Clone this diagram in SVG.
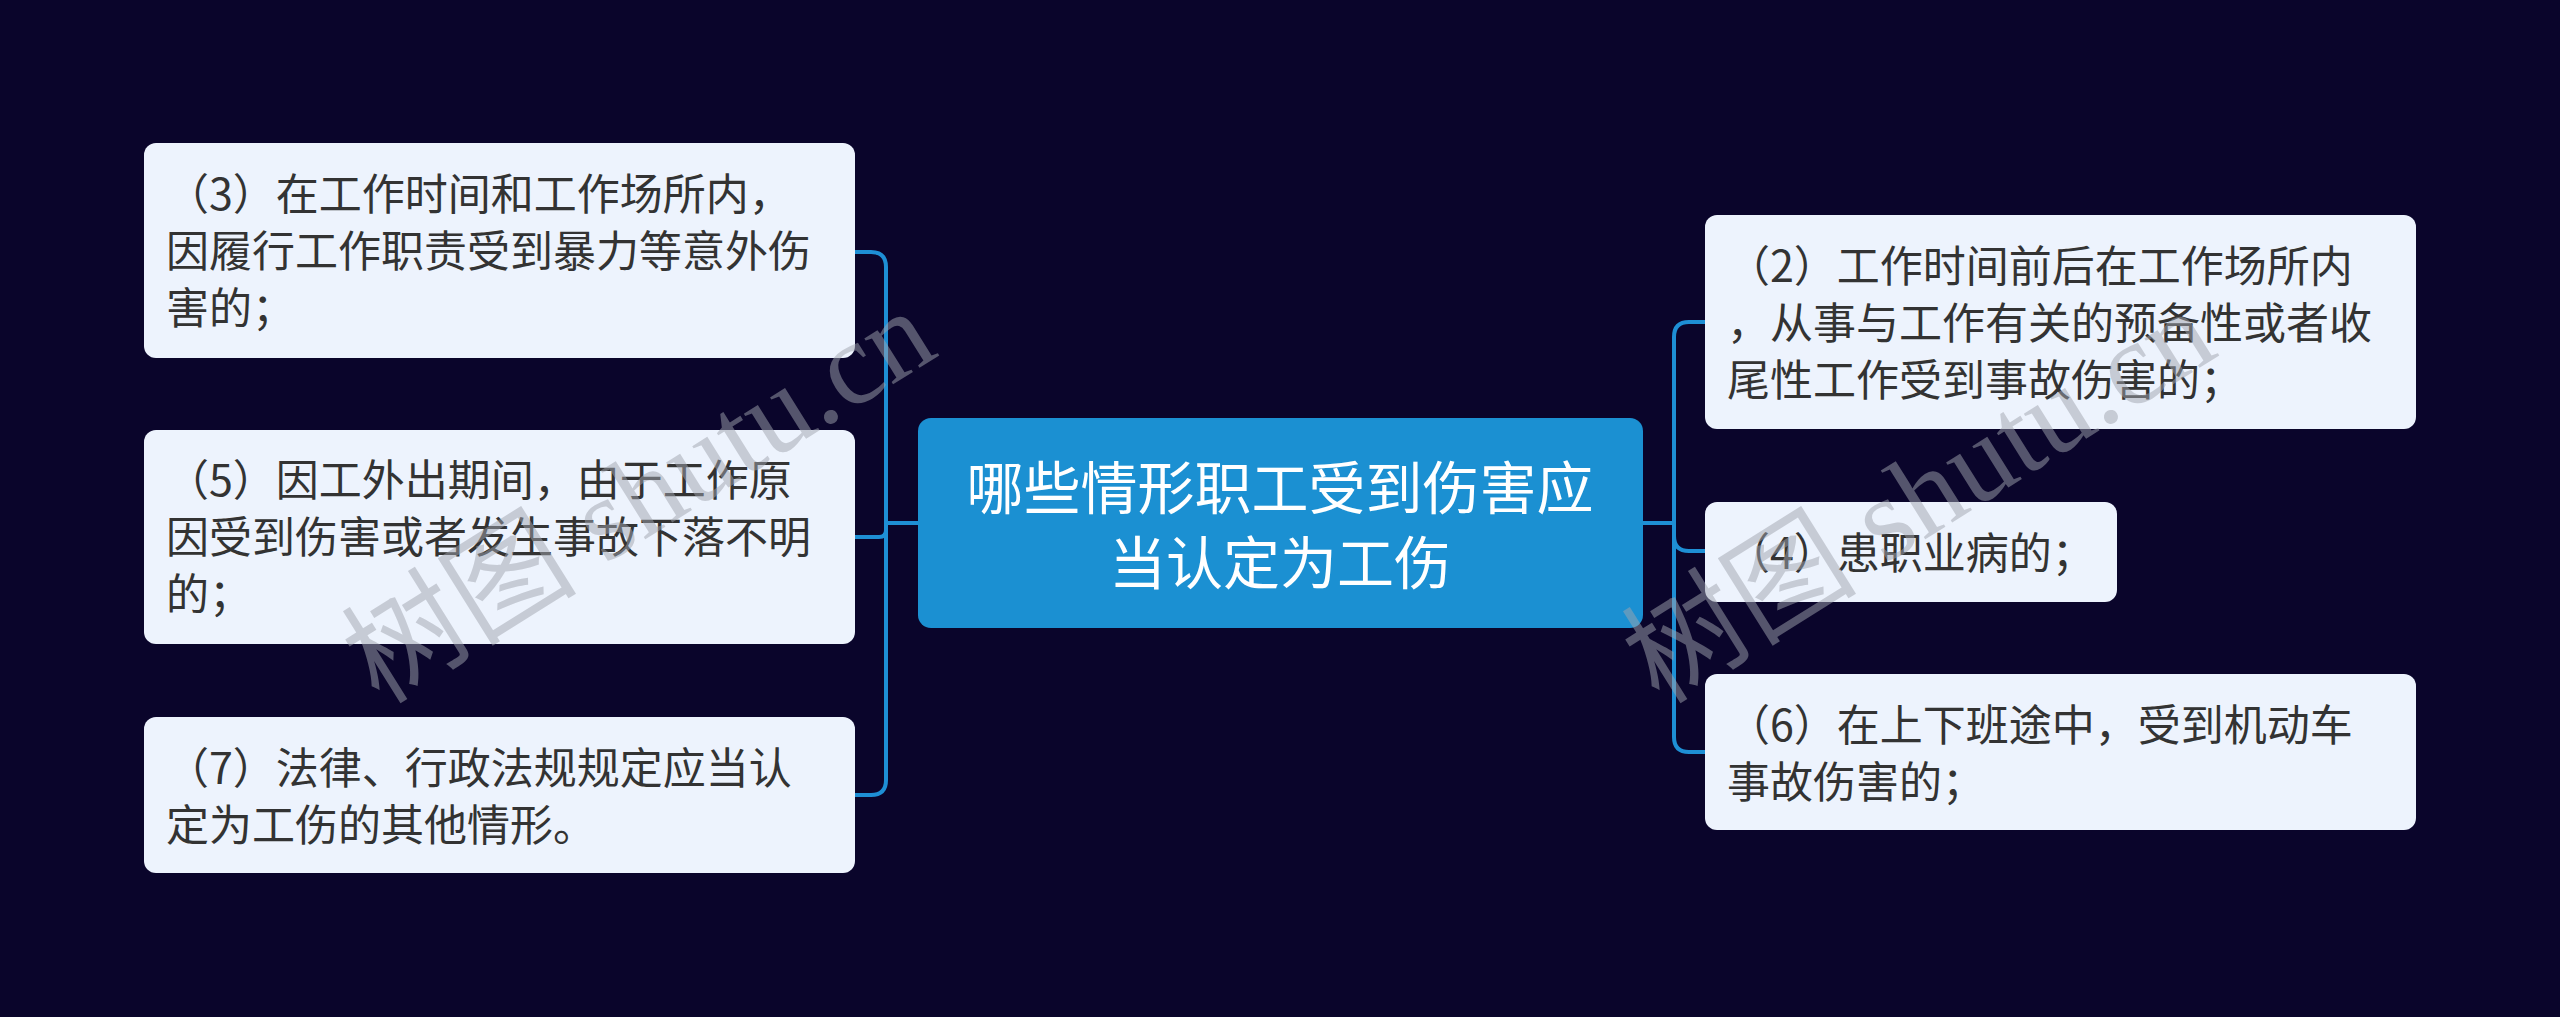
<svg xmlns="http://www.w3.org/2000/svg" width="2560" height="1017" viewBox="0 0 2560 1017">
  <style>
    .leaf rect { fill: #edf3fd; }
    .leaf text { font-family: "Noto Sans CJK SC", "Noto Sans", sans-serif; font-size: 43px; fill: #333333; }
    .root rect { fill: #1b90d2; }
    .root text { font-family: "Noto Sans CJK SC", "Noto Sans", sans-serif; font-size: 57px; fill: #ffffff; text-anchor: middle; }
    .edge { fill: none; stroke: #1e8fd5; stroke-width: 4; }
    .wm { font-family: "Liberation Serif", "Noto Sans CJK SC", serif; font-size: 118px; fill: #a0a4ae; opacity: 0.5; }
  </style>
  <rect x="0" y="0" width="2560" height="1017" fill="#0a052b"/>

  <g id="connectors">
    <path class="edge" d="M918 523 H886 V267 Q886 252 871 252 H855"/>
    <path class="edge" d="M918 523 H886 V530 Q886 537 879 537 H855"/>
    <path class="edge" d="M918 523 H886 V780 Q886 795 871 795 H855"/>
    <path class="edge" d="M1642 523 H1674 V337 Q1674 322 1689 322 H1705"/>
    <path class="edge" d="M1642 523 H1674 V536 Q1674 551 1689 551 H1705"/>
    <path class="edge" d="M1642 523 H1674 V737 Q1674 752 1689 752 H1705"/>
  </g>

  <g id="root" class="root">
    <rect x="918" y="418" width="725" height="210" rx="13"/>
    <text x="1280" y="509">哪些情形职工受到伤害应</text>
    <text x="1280" y="584">当认定为工伤</text>
  </g>

  <g id="n3" class="leaf">
    <rect x="144" y="143" width="711" height="215" rx="12"/>
    <text x="166" y="210">（3）在工作时间和工作场所内，</text>
    <text x="166" y="267">因履行工作职责受到暴力等意外伤</text>
    <text x="166" y="324">害的；</text>
  </g>

  <g id="n5" class="leaf">
    <rect x="144" y="430" width="711" height="214" rx="12"/>
    <text x="166" y="496">（5）因工外出期间，由于工作原</text>
    <text x="166" y="553">因受到伤害或者发生事故下落不明</text>
    <text x="166" y="610">的；</text>
  </g>

  <g id="n7" class="leaf">
    <rect x="144" y="717" width="711" height="156" rx="12"/>
    <text x="166" y="784">（7）法律、行政法规规定应当认</text>
    <text x="166" y="841">定为工伤的其他情形。</text>
  </g>

  <g id="n2" class="leaf">
    <rect x="1705" y="215" width="711" height="214" rx="12"/>
    <text x="1727" y="282">（2）工作时间前后在工作场所内</text>
    <text x="1727" y="339">，从事与工作有关的预备性或者收</text>
    <text x="1727" y="396">尾性工作受到事故伤害的；</text>
  </g>

  <g id="n4" class="leaf">
    <rect x="1705" y="502" width="412" height="100" rx="12"/>
    <text x="1727" y="569">（4）患职业病的；</text>
  </g>

  <g id="n6" class="leaf">
    <rect x="1705" y="674" width="711" height="156" rx="12"/>
    <text x="1727" y="741">（6）在上下班途中，受到机动车</text>
    <text x="1727" y="798">事故伤害的；</text>
  </g>

  <text class="wm" x="660" y="530" text-anchor="middle" transform="rotate(-32 660 530)">树图 shutu.cn</text>
  <text class="wm" x="1940" y="530" text-anchor="middle" transform="rotate(-32 1940 530)">树图 shutu.cn</text>
</svg>
